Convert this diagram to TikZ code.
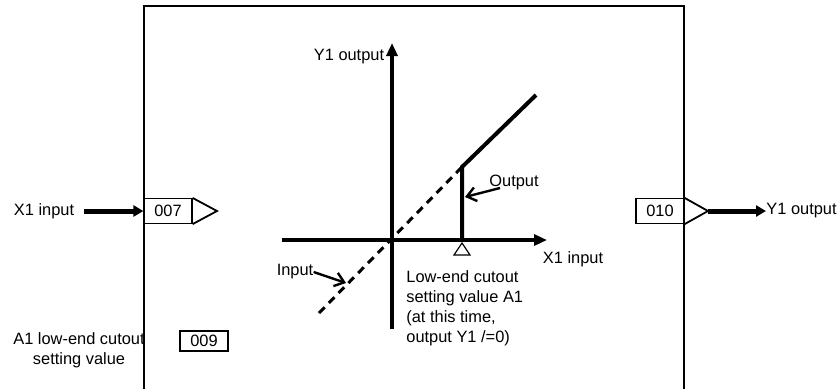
\documentclass[tikz,border=0pt]{standalone}
\usepackage{fontspec}
\setmainfont{Liberation Sans}
\usetikzlibrary{arrows.meta}
\begin{document}
\begin{tikzpicture}[x=0.5pt,y=-0.5pt,
  lbl/.style={font=\fontsize{8.2}{10}\selectfont, inner sep=0pt},
  numbox/.style={draw, line width=0.6pt, minimum width=24pt, minimum height=12.5pt, inner sep=0pt, font=\fontsize{8.2}{10}\selectfont},
  frame/.style={line width=0.9pt},
  axis/.style={line width=2pt, -{Triangle[length=6.5pt,width=5.5pt]}},
  curve/.style={line width=2pt},
  dashline/.style={line width=1.5pt, dash pattern=on 4pt off 3pt},
  sig/.style={line width=2.5pt, -{Triangle[length=5pt,width=5.5pt]}},
  pointer/.style={line width=1.2pt, -{Straight Barb[length=4.5pt,width=7pt]}}
]
\useasboundingbox (0,0) rectangle (839,388);
\draw[frame] (144,392) -- (144,6) -- (684,6) -- (684,392);
% function blocks
\node[numbox] (b007) at (168,211) {007};
\draw[frame] (b007.north east) -- (217,211) coordinate (t007) -- (b007.south east);
\node[numbox] (b010) at (660,211) {010};
\draw[frame] (b010.north east) -- (708,211) coordinate (t010) -- (b010.south east);
\node[numbox, minimum height=10pt] (b009) at (204,341) {009};
% external signals
\node[lbl] (x1in) at (44,211) {X1 input};
\draw[sig] ([xshift=5pt]x1in.east) -- (b007.west);
\node[lbl, anchor=west] (y1out) at (766,211) {Y1 output};
\draw[sig] (t010) -- (y1out.west);
\node[lbl, align=center] (a1) at (79,350) {A1 low-end cutout\\setting value};
% graph
\coordinate (O) at (392,240);
\coordinate (xs) at (282,240);
\coordinate (xe) at (547,240);
\coordinate (ys) at (392,329);
\coordinate (ye) at (392,43);
\coordinate (A) at (462,240);
\coordinate (B) at (462,167);
\coordinate (C) at (536,95);
\coordinate (D) at (319,313);
\draw[axis] (xs) -- (xe);
\draw[axis] (ys) -- (ye);
\draw[dashline] (D) -- (B);
\draw[curve] (A) -- (B) -- (C);
\draw[line width=0.6pt] (462,243) -- (470,255) -- (454,255) -- cycle;
\node[lbl] (y1lab) at (349,57) {Y1 output};
\node[lbl] (x1lab) at (573,259) {X1 input};
\node[lbl] (outlab) at (514,182) {Output};
\coordinate (outtip) at (465,197);
\draw[pointer] (500,188) -- (outtip);
\node[lbl] (inlab) at (295,272) {Input};
\coordinate (intip) at (346,283);
\draw[pointer] (inlab.east) -- (intip);
\node[lbl, anchor=north west, align=left] (note) at (406,270) {Low-end cutout\\setting value A1\\(at this time,\\output Y1 /=0)};
\end{tikzpicture}
\end{document}
